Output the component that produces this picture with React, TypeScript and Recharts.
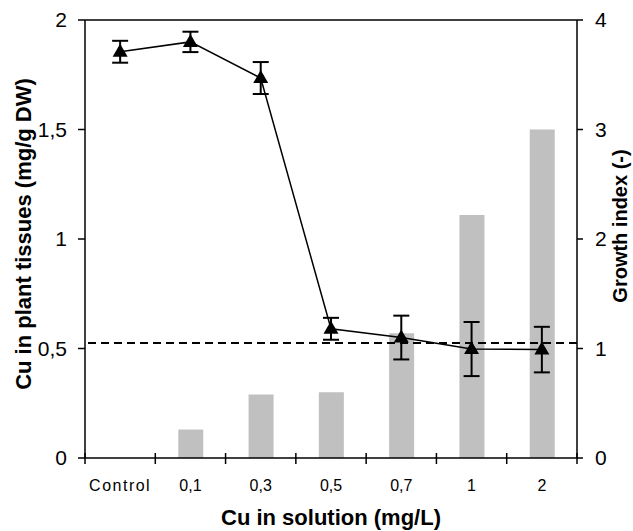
import {
  Bar,
  ComposedChart,
  ErrorBar,
  Label,
  Line,
  ReferenceLine,
  XAxis,
  YAxis,
} from "recharts";

const categories = ["Control", "0,1", "0,3", "0,5", "0,7", "1", "2"];
const cuTissue = [0, 0.13, 0.29, 0.3, 0.57, 1.11, 1.5];
const growthIndex = [3.71, 3.8, 3.47, 1.18, 1.1, 0.995, 0.99];
const growthError = [0.1, 0.093, 0.146, 0.1, 0.2, 0.247, 0.208];
const growthThreshold = 1.05;
const leftTicks = [0, 0.5, 1, 1.5, 2];
const rightTicks = [0, 1, 2, 3, 4];

const data = categories.map((name, i) => ({
  name,
  cu: cuTissue[i],
  growth: growthIndex[i],
  err: growthError[i],
}));

const font = "'Liberation Sans', Arial, sans-serif";
const commaFormat = (v: number) => String(v).replace(".", ",");

function Triangle({ cx, cy }: { cx?: number; cy?: number }) {
  if (cx == null || cy == null) return null;
  return (
    <polygon
      points={`${cx},${cy - 8} ${cx - 7.5},${cy + 5} ${cx + 7.5},${cy + 5}`}
      fill="#000"
    />
  );
}

function CategoryTick(props: any) {
  const { x, y, payload, index } = props;
  const half = payload?.offset || 35;
  const isLast = index === categories.length - 1;
  const label = String(payload.value);
  return (
    <g>
      <line x1={x - half} x2={x - half} y1={y - 5} y2={y + 6} stroke="#000" strokeWidth={1.5} />
      {isLast ? (
        <line x1={x + half} x2={x + half} y1={y - 5} y2={y + 6} stroke="#000" strokeWidth={1.5} />
      ) : null}
      <text
        x={x}
        y={y + 33}
        textAnchor="middle"
        fontSize={16}
        fontFamily={font}
        fill="#000"
        letterSpacing={label === "Control" ? 1.5 : 0}
      >
        {label}
      </text>
    </g>
  );
}

export default function App() {
  return (
    <div style={{ position: "absolute", left: 0, top: 0, background: "#fff" }}>
      <ComposedChart
        width={633}
        height={531}
        data={data}
        margin={{ top: 20, right: 0, bottom: 0, left: 0 }}
        style={{ fontFamily: font }}
      >
        <XAxis
          dataKey="name"
          height={73}
          axisLine={{ stroke: "#000", strokeWidth: 1.5 }}
          tickLine={false}
          tickSize={0}
          tickMargin={0}
          interval={0}
          tick={<CategoryTick />}
        >
          <Label
            value="Cu in solution (mg/L)"
            position="insideBottom"
            offset={6}
            style={{ fontSize: 22, fontWeight: 700, fill: "#000", fontFamily: font }}
          />
        </XAxis>
        <YAxis
          yAxisId="left"
          width={85}
          domain={[0, 2]}
          ticks={leftTicks}
          tickFormatter={commaFormat}
          axisLine={{ stroke: "#000", strokeWidth: 1.5 }}
          tickLine={{ stroke: "#000", strokeWidth: 1.5 }}
          tickSize={7}
          tickMargin={11}
          tick={{ fill: "#000", fontSize: 21, fontFamily: font }}
        >
          <Label
            value="Cu in plant tissues (mg/g DW)"
            angle={-90}
            position="center"
            dx={-19.5}
            dy={-5}
            style={{ fontSize: 22, fontWeight: 700, fill: "#000", fontFamily: font, textAnchor: "middle" }}
          />
        </YAxis>
        <YAxis
          yAxisId="right"
          orientation="right"
          width={56}
          domain={[0, 4]}
          ticks={rightTicks}
          axisLine={{ stroke: "#000", strokeWidth: 1.5 }}
          tickLine={{ stroke: "#000", strokeWidth: 1.5 }}
          tickSize={6}
          tickMargin={12}
          tick={{ fill: "#000", fontSize: 21, fontFamily: font }}
        >
          <Label
            value="Growth index (-)"
            angle={-90}
            position="center"
            dx={15}
            dy={-13}
            style={{ fontSize: 20, fontWeight: 700, fill: "#000", fontFamily: font, textAnchor: "middle" }}
          />
        </YAxis>
        <ReferenceLine yAxisId="left" y={2} stroke="#000" strokeWidth={1.5} />
        <Bar
          yAxisId="left"
          dataKey="cu"
          fill="#c0c0c0"
          barSize={25}
          isAnimationActive={false}
        />
        <ReferenceLine
          yAxisId="right"
          y={growthThreshold}
          stroke="#000"
          strokeWidth={2}
          strokeDasharray="8 5"
        />
        <Line
          yAxisId="right"
          dataKey="growth"
          stroke="#000"
          strokeWidth={1.5}
          dot={<Triangle />}
          activeDot={false}
          isAnimationActive={false}
        >
          <ErrorBar dataKey="err" width={8} stroke="#000" strokeWidth={2} direction="y" />
        </Line>
      </ComposedChart>
    </div>
  );
}
